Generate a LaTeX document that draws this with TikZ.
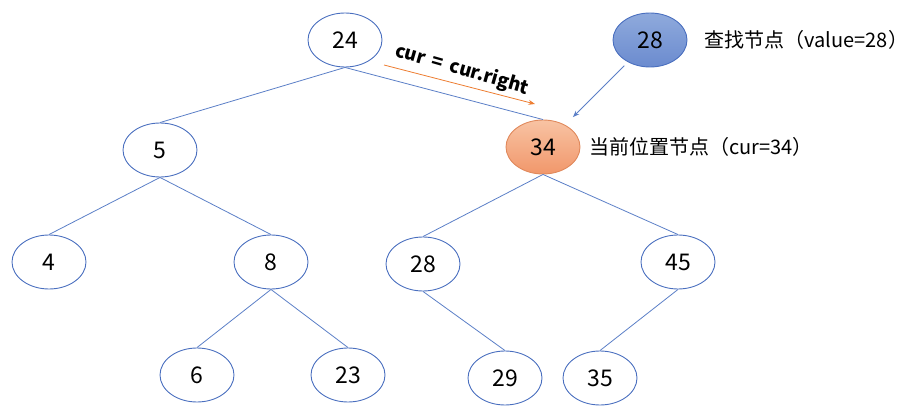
\documentclass[tikz,border=0pt]{standalone}
\usepackage{fontspec}
\setmainfont{Noto Sans CJK SC}
\usepackage{tikz}
\usetikzlibrary{arrows.meta,shapes.geometric}
\definecolor{edge}{HTML}{5B7FC7}
\definecolor{rim}{HTML}{4A6FBF}
\definecolor{hot}{HTML}{ED7D31}
\definecolor{seektop}{HTML}{8FAADC}
\definecolor{seekbot}{HTML}{6B8BCF}
\definecolor{heretop}{HTML}{F8C3A3}
\definecolor{herebot}{HTML}{F1976B}
\definecolor{hererim}{HTML}{E0895C}

\begin{document}
\begin{tikzpicture}[x=1pt,y=-1pt,>=Stealth,
  key/.style={ellipse,draw=rim,line width=0.9pt,minimum width=74pt,minimum height=54pt,inner sep=0pt,font=\fontsize{23}{26}\selectfont},
  seek/.style={key,top color=seektop,bottom color=seekbot},
  here/.style={key,draw=hererim,top color=heretop,bottom color=herebot},
  link/.style={draw=edge,line width=0.8pt},
  note/.style={anchor=west,font=\fontsize{20}{23}\selectfont}]
\useasboundingbox (0,0) rectangle (916,414);
% tree
\node[key] (n24) at (345,40) {24};
\node[key] (n5) at (160,150) {5};
\node[here] (n34) at (543,147) {34};
\node[key] (n4) at (49,262) {4};
\node[key] (n8) at (271,262) {8};
\node[key] (n28) at (423,264) {28};
\node[key] (n45) at (678,262) {45};
\node[key] (n6) at (197,375) {6};
\node[key] (n23) at (348,375) {23};
\node[key] (n29) at (505,378) {29};
\node[key] (n35) at (600,378) {35};
\draw[link] (n24.south)--(n5.north);
\draw[link] (n24.south)--(n34.north);
\draw[link] (n5.south)--(n4.north);
\draw[link] (n5.south)--(n8.north);
\draw[link] (n8.south)--(n6.north);
\draw[link] (n8.south)--(n23.north);
\draw[link] (n34.south)--(n28.north);
\draw[link] (n34.south)--(n45.north);
\draw[link] (n28.south)--(n29.north);
\draw[link] (n45.south)--(n35.north);
% search key
\node[seek] (q) at (650,40) {28};
\node[note] (qtxt) at (701,40) {查找节点（value=28）};
\node[note] (curtxt) at (586,147) {当前位置节点（cur=34）};
\draw[->,edge,line width=0.8pt,shorten <=5pt,shorten >=11pt] (q)--(n34);
% step right
\coordinate (mv0) at (384,65);
\coordinate (mv1) at (535,104);
\draw[->,hot,line width=0.8pt] (mv0)--(mv1);
\node[rotate=-16,font=\bfseries\fontsize{18.5}{21}\selectfont] (mvtxt) at (462,70) {cur\,\ =\ \,cur.right};
\end{tikzpicture}
\end{document}
